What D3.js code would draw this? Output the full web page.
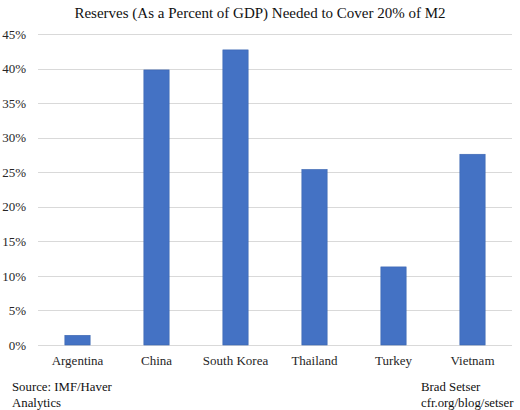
<!DOCTYPE html>
<html>
<head>
<meta charset="utf-8">
<script src="https://cdn.jsdelivr.net/npm/d3@7"></script>
<style>
  body { margin: 0; background: #fff; }
  svg { font-family: "Liberation Serif", "DejaVu Serif", serif; }
  .grid line { stroke: #d9d9d9; stroke-width: 1; }
  .axis text { fill: #262626; font-size: 13px; }
</style>
</head>
<body>
<svg id="chart" width="520" height="410"></svg>
<script>
"use strict";

// chart data
var countries = ['Argentina', 'China', 'South Korea', 'Thailand', 'Turkey', 'Vietnam'];
var reserves = [1.4, 39.8, 42.7, 25.4, 11.3, 27.6];
var yTicks = [0, 5, 10, 15, 20, 25, 30, 35, 40, 45];

var svg = d3.select('#chart');
var margin = { top: 34, right: 8, bottom: 65, left: 38 };
var width = 520 - margin.left - margin.right;
var height = 410 - margin.top - margin.bottom;

var g = svg.append('g')
	.attr('transform', 'translate(' + margin.left + ',' + margin.top + ')');

var x = d3.scaleBand()
	.domain(countries)
	.range([0, width])
	.paddingInner(0.68)
	.paddingOuter(0.34);

var y = d3.scaleLinear()
	.domain([0, 45])
	.range([height, 0]);

// horizontal grid lines
g.append('g')
	.attr('class', 'grid')
	.selectAll('line')
	.data(yTicks)
	.enter()
	.append('line')
	.attr('x1', 0)
	.attr('x2', width)
	.attr('y1', function(d) { return Math.round(y(d)) + 0.5; })
	.attr('y2', function(d) { return Math.round(y(d)) + 0.5; });

// bars
g.selectAll('.bar')
	.data(reserves)
	.enter()
	.append('rect')
	.attr('class', 'bar')
	.attr('x', function(d, i) { return x(countries[i]); })
	.attr('width', x.bandwidth())
	.attr('y', function(d) { return y(d); })
	.attr('height', function(d) { return height - y(d); })
	.attr('fill', '#4472c4')
	.attr('stroke', '#3a64b0')
	.attr('stroke-width', 0.6);

// d3 axes put font-family/size on the group, drop them so the css applies
function stripAxis(s) {
	s.attr('font-family', null).attr('font-size', null);
	s.select('.domain').remove();
}

// y axis (labels only)
var yAxis = d3.axisLeft(y)
	.tickValues(yTicks)
	.tickFormat(function(d) { return d + '%'; })
	.tickSize(0)
	.tickPadding(12);
g.append('g')
	.attr('class', 'axis axis-y')
	.call(yAxis)
	.call(stripAxis);

// x axis (labels only)
var xAxis = d3.axisBottom(x)
	.tickSize(0)
	.tickPadding(11);
g.append('g')
	.attr('class', 'axis axis-x')
	.attr('transform', 'translate(0,' + height + ')')
	.call(xAxis)
	.call(stripAxis);

// title
svg.append('text')
	.attr('x', 260)
	.attr('y', 18)
	.attr('text-anchor', 'middle')
	.attr('font-size', '15px')
	.attr('fill', '#111')
	.text('Reserves (As a Percent of GDP) Needed to Cover 20% of M2');

// footnotes
var notes = [
	{ x: 12, anchor: 'start', lines: ['Source: IMF/Haver', 'Analytics'] },
	{ x: 421, anchor: 'start', lines: ['Brad Setser', 'cfr.org/blog/setser'] }
];
notes.forEach(function(n) {
	n.lines.forEach(function(t, i) {
		svg.append('text')
			.attr('x', n.x)
			.attr('y', 391 + i * 16)
			.attr('text-anchor', n.anchor)
			.attr('font-size', '12.8px')
			.attr('fill', '#111')
			.text(t);
	});
});
</script>
</body>
</html>
